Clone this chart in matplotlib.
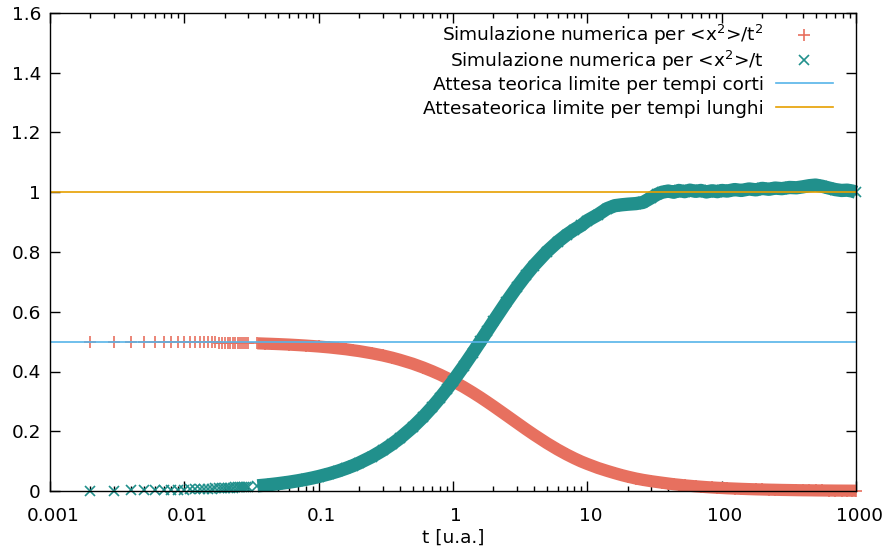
import matplotlib
matplotlib.use("Agg")
import matplotlib.pyplot as plt
from matplotlib.legend import Legend
from matplotlib.lines import Line2D
from matplotlib.transforms import ScaledTranslation
from matplotlib.ticker import FuncFormatter, FixedLocator, LogLocator, MultipleLocator, NullFormatter

plt.rcParams['font.family'] = ['DejaVu Sans']
plt.rcParams['mathtext.default'] = 'regular'

# primi istanti: punti distinti (passo 0.001)
t_low = [0.002, 0.003, 0.004, 0.005, 0.006, 0.007, 0.008, 0.009, 0.010,
         0.011, 0.012, 0.013, 0.014, 0.015, 0.016, 0.017, 0.018, 0.019, 0.020,
         0.021, 0.022, 0.023, 0.024, 0.025, 0.026, 0.027, 0.028, 0.029, 0.030]
x2_t2_low = [0.4997, 0.4995, 0.4993, 0.4992, 0.4990, 0.4988, 0.4987, 0.4985, 0.4983,
             0.4982, 0.4980, 0.4978, 0.4977, 0.4975, 0.4973, 0.4972, 0.4970, 0.4968, 0.4967,
             0.4965, 0.4963, 0.4962, 0.4960, 0.4958, 0.4957, 0.4955, 0.4953, 0.4952, 0.4950]
x2_t_low = [0.0010, 0.0015, 0.0020, 0.0025, 0.0030, 0.0035, 0.0040, 0.0045, 0.0050,
            0.0055, 0.0060, 0.0065, 0.0070, 0.0075, 0.0080, 0.0085, 0.0089, 0.0094, 0.0099,
            0.0104, 0.0109, 0.0114, 0.0119, 0.0124, 0.0129, 0.0134, 0.0139, 0.0144, 0.0149]

# tempi successivi: banda continua di punti
t_dense = [0.035, 0.04, 0.045, 0.05, 0.06, 0.07, 0.08, 0.09, 0.1, 0.12, 0.14, 0.16,
           0.18, 0.2, 0.25, 0.3, 0.35, 0.4, 0.5, 0.6, 0.7, 0.8, 0.9, 1.0, 1.2, 1.4,
           1.6, 1.8, 2.0, 2.5, 3.0, 3.5, 4.0, 5.0, 6.0, 7.0, 8.0, 9.0, 10, 12, 14,
           16, 18, 20, 23, 26, 30, 33, 36, 40, 44, 48, 53, 58, 64, 70, 77, 85, 93,
           100, 110, 125, 140, 160, 180, 200, 225, 250, 280, 320, 360, 400, 450,
           500, 560, 630, 700, 780, 860, 940, 1000]
x2_t2_dense = [0.4943, 0.4933, 0.4925, 0.4917, 0.4901, 0.4884, 0.4868, 0.4852, 0.4837,
               0.4806, 0.4773, 0.4744, 0.4711, 0.4683, 0.4608, 0.4537, 0.4466, 0.4395,
               0.4262, 0.4133, 0.4011, 0.3896, 0.3784, 0.3679, 0.3481, 0.3299, 0.3133,
               0.2979, 0.2838, 0.2531, 0.2278, 0.2065, 0.1887, 0.1603, 0.1390, 0.1225,
               0.1094, 0.0988, 0.0905, 0.0771, 0.0675, 0.0597, 0.0532, 0.0480, 0.0418,
               0.0372, 0.0327, 0.0301, 0.0278, 0.0251, 0.0227, 0.0210, 0.0189, 0.0174,
               0.0157, 0.0144, 0.0130, 0.0118, 0.0108, 0.0101, 0.0091, 0.0081, 0.0072,
               0.0063, 0.0056, 0.0051, 0.0045, 0.0041, 0.0036, 0.0032, 0.0028, 0.0025,
               0.0023, 0.0020, 0.0018, 0.0016, 0.0014, 0.0013, 0.0012, 0.0011, 0.0010]
x2_t_dense = [0.0173, 0.0197, 0.0222, 0.0246, 0.0294, 0.0342, 0.0390, 0.0437, 0.0484,
              0.0577, 0.0668, 0.0759, 0.0848, 0.0937, 0.1152, 0.1361, 0.1563, 0.1758,
              0.2131, 0.2480, 0.2808, 0.3117, 0.3406, 0.3679, 0.4177, 0.4619, 0.5012,
              0.5363, 0.5677, 0.6328, 0.6833, 0.7229, 0.7546, 0.8013, 0.8337, 0.8573,
              0.8750, 0.8889, 0.905, 0.925, 0.945, 0.955, 0.958, 0.960, 0.962, 0.966,
              0.982, 0.993, 1.000, 1.004, 1.000, 1.006, 1.002, 1.007, 1.003, 1.006,
              1.001, 1.005, 1.002, 1.006, 1.004, 1.009, 1.006, 1.011, 1.008, 1.013,
              1.010, 1.014, 1.012, 1.016, 1.015, 1.018, 1.022, 1.024, 1.020, 1.014,
              1.009, 1.006, 1.007, 1.004, 1.000]

short_limit = 0.5
long_limit = 1.0

x_ticks = [0.001, 0.01, 0.1, 1, 10, 100, 1000]

labels = ['Simulazione numerica per <x$^2$>/t$^2$',
          'Simulazione numerica per <x$^2$>/t',
          'Attesa teorica limite per tempi corti',
          'Attesateorica limite per tempi lunghi']

red = '#e7705f'
teal = '#21908c'
blue = '#56b4e9'
orange = '#e69f00'
FS = 13.3

fig = plt.figure(figsize=(8.85, 5.56), dpi=100)
ax = fig.add_axes([50 / 885, 65 / 556, 806 / 885, 478 / 556])

ax.plot(t_dense, x2_t2_dense, '-', lw=8.8, color=red, solid_capstyle='butt', clip_on=False)
ax.plot(t_low + t_dense, x2_t2_low + x2_t2_dense, ls='none', marker='+', ms=8, mew=1.2,
        color=red, clip_on=False)
ax.plot(t_dense, x2_t_dense, '-', lw=9.6, color=teal, solid_capstyle='butt', clip_on=False)
ax.plot(t_low + t_dense, x2_t_low + x2_t_dense, ls='none', marker='x', ms=7.5, mew=1.2,
        color=teal, clip_on=False)
ax.axhline(short_limit, color=blue, lw=1.2)
ax.axhline(long_limit, color=orange, lw=1.2)

ax.set_xscale('log')
ax.set_xlim(0.001, 1000)
ax.set_ylim(0, 1.6)
ax.xaxis.set_major_locator(FixedLocator(x_ticks))
ax.xaxis.set_minor_locator(LogLocator(base=10, subs=range(2, 10), numticks=20))
ax.xaxis.set_minor_formatter(NullFormatter())
ax.yaxis.set_major_locator(MultipleLocator(0.2))
fmt = FuncFormatter(lambda v, p: '%g' % v)
ax.xaxis.set_major_formatter(fmt)
ax.yaxis.set_major_formatter(fmt)
ax.tick_params(which='both', direction='in', top=True, right=True, labelsize=FS,
               width=1, color='black')
ax.tick_params(which='major', length=7)
ax.tick_params(which='minor', length=3.5)
ax.tick_params(axis='x', pad=11.5)
ax.tick_params(axis='y', pad=6.5)
for s in ax.spines.values():
    s.set_linewidth(1)
ax.set_xlabel('t [u.a.]', fontsize=FS, labelpad=3)

# etichette asse x leggermente spostate a destra come in gnuplot
shift = ScaledTranslation(3 / 100, 0, fig.dpi_scale_trans)
for lab in ax.get_xticklabels():
    lab.set_transform(lab.get_transform() + shift)

# legenda stile gnuplot: una riga per voce, testo allineato a destra
handles = [Line2D([], [], ls='none', marker='+', ms=8, mew=1.2, color=red),
           Line2D([], [], ls='none', marker='x', ms=7.5, mew=1.2, color=teal),
           Line2D([], [], color=blue, lw=1.2),
           Line2D([], [], color=orange, lw=1.2)]
row_y = [0.954, 0.900, 0.850, 0.800]
for h, lab, y in zip(handles, labels, row_y):
    leg = Legend(ax, [h], [lab], loc='center right', bbox_to_anchor=(0.9715, y),
                 markerfirst=False, frameon=False, fontsize=FS, handlelength=3.1,
                 handletextpad=0.65, borderpad=0, borderaxespad=0, numpoints=1)
    ax.add_artist(leg)

fig.savefig('out.png', dpi=100)
